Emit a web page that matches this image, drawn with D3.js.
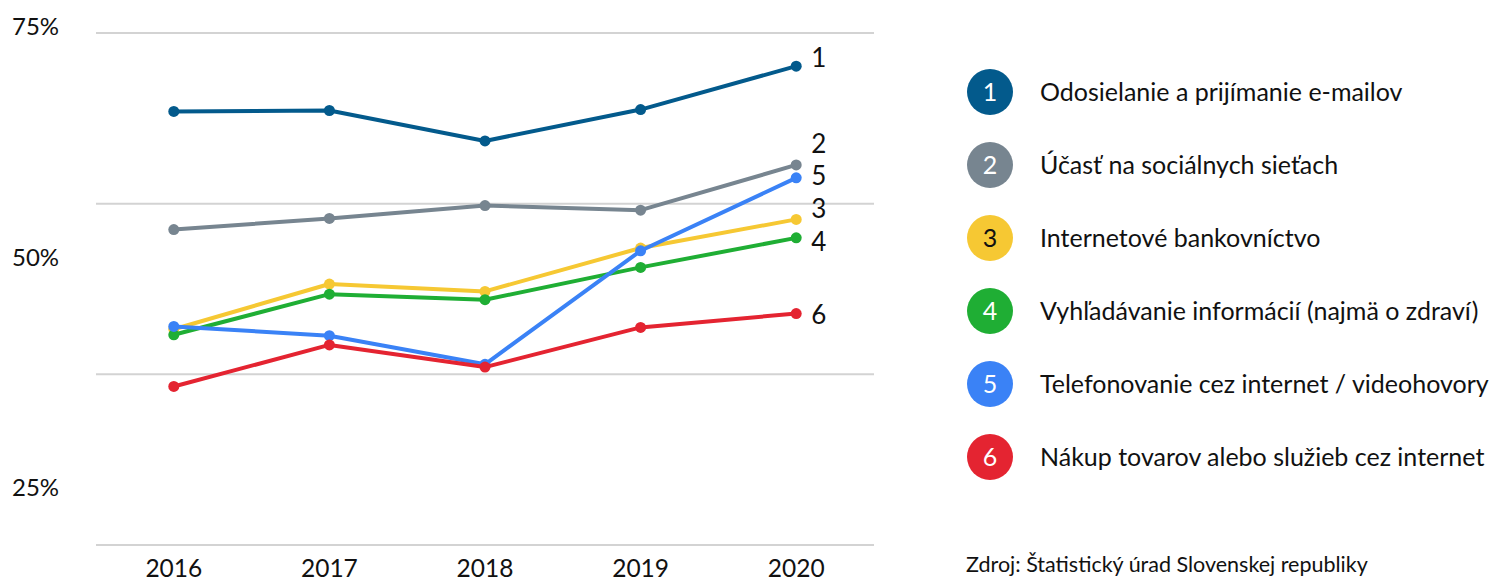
<!DOCTYPE html>
<html>
<head>
<meta charset="utf-8">
<script src="https://cdn.jsdelivr.net/npm/d3@7"></script>
<style>
  body { margin: 0; background: #fff; }
  text { font-family: Lato, "Noto Sans", sans-serif; fill: #111; }
</style>
</head>
<body>
<div class="canva"></div>
<script>
const years = [2016, 2017, 2018, 2019, 2020]
const names = [
  'Odosielanie a prijímanie e-mailov',
  'Účasť na sociálnych sieťach',
  'Internetové bankovníctvo',
  'Vyhľadávanie informácií (najmä o zdraví)',
  'Telefonovanie cez internet / videohovory',
  'Nákup tovarov alebo služieb cez internet'
]
const email = [65.8, 65.9, 62.6, 66.0, 70.7]
const social = [53.0, 54.2, 55.6, 55.1, 60.0]
const banking = [42.2, 47.1, 46.3, 51.0, 54.1]
const info = [41.6, 46.0, 45.4, 48.9, 52.1]
const calls = [42.5, 41.5, 38.4, 50.7, 58.6]
const shopping = [36.0, 40.5, 38.1, 42.4, 43.9]
const yTicks = [75, 50, 25]
const source = 'Zdroj: Štatistický úrad Slovenskej republiky'

const colors = ['#035a8c', '#778590', '#f6c833', '#1fae34', '#3a82f6', '#e42431']
const numColor = ['#fff', '#fff', '#111', '#fff', '#fff', '#fff']
// nudges for the end labels so they don't overlap
const labelDy = [1, -12, -1, 13, 7, 10]

const series = [email, social, banking, info, calls, shopping].map((vals, i) => ({
  id: i + 1, name: names[i], color: colors[i], values: vals
}))

const width = 1491, height = 581

const svg = d3.select('.canva').append('svg')
              .attr('width', width)
              .attr('height', height)

const x = d3.scalePoint()
            .domain(years)
            .range([96, 874])
            .padding(0.5)

const y = d3.scaleLinear()
            .domain([25, 75])
            .range([488, 26.5])

// four evenly spaced guide lines
const grid = d3.scaleLinear().domain([0, 3]).range([33, 545])

svg.append('g').selectAll('line')
   .data(d3.range(4))
   .enter().append('line')
   .attr('x1', 96).attr('x2', 874)
   .attr('y1', d => grid(d)).attr('y2', d => grid(d))
   .attr('stroke', '#d3d3d3')
   .attr('stroke-width', 2)

svg.append('g').selectAll('text')
   .data(yTicks)
   .enter().append('text')
   .attr('x', 12)
   .attr('y', d => y(d))
   .attr('dy', '0.35em')
   .style('font-size', '24px')
   .text(d => d + '%')

svg.append('g').selectAll('text')
   .data(years)
   .enter().append('text')
   .attr('x', d => x(d))
   .attr('y', 577)
   .attr('text-anchor', 'middle')
   .style('font-size', '24.5px')
   .text(d => d)

const line = d3.line()
               .x((d, i) => x(years[i]))
               .y(d => y(d))

const groups = svg.append('g').selectAll('g')
                  .data(series)
                  .enter().append('g')

groups.append('path')
      .attr('d', d => line(d.values))
      .attr('fill', 'none')
      .attr('stroke', d => d.color)
      .attr('stroke-width', 4)
      .attr('stroke-linejoin', 'round')

groups.selectAll('circle')
      .data(d => d.values.map((v, i) => ({ v, year: years[i], color: d.color })))
      .enter().append('circle')
      .attr('cx', d => x(d.year))
      .attr('cy', d => y(d.v))
      .attr('r', 5.5)
      .attr('fill', d => d.color)

groups.append('text')
      .attr('x', x(years[years.length - 1]) + 15)
      .attr('y', (d, i) => y(d.values[d.values.length - 1]) + labelDy[i])
      .style('font-size', '26px')
      .text(d => d.id)

// legend
const legend = svg.append('g').selectAll('g')
                  .data(series)
                  .enter().append('g')
                  .attr('transform', (d, i) => `translate(990,${92 + i * 73})`)

legend.append('circle')
      .attr('r', 23)
      .attr('fill', d => d.color)

legend.append('text')
      .attr('text-anchor', 'middle')
      .attr('dy', '0.36em')
      .style('font-size', '25px')
      .style('fill', (d, i) => numColor[i])
      .text(d => d.id)

legend.append('text')
      .attr('x', 50)
      .attr('dy', '0.36em')
      .style('font-size', '25px')
      .text(d => d.name)

svg.append('text')
   .attr('x', 966)
   .attr('y', 572)
   .style('font-size', '21.5px')
   .text(source)
</script>
</body>
</html>
